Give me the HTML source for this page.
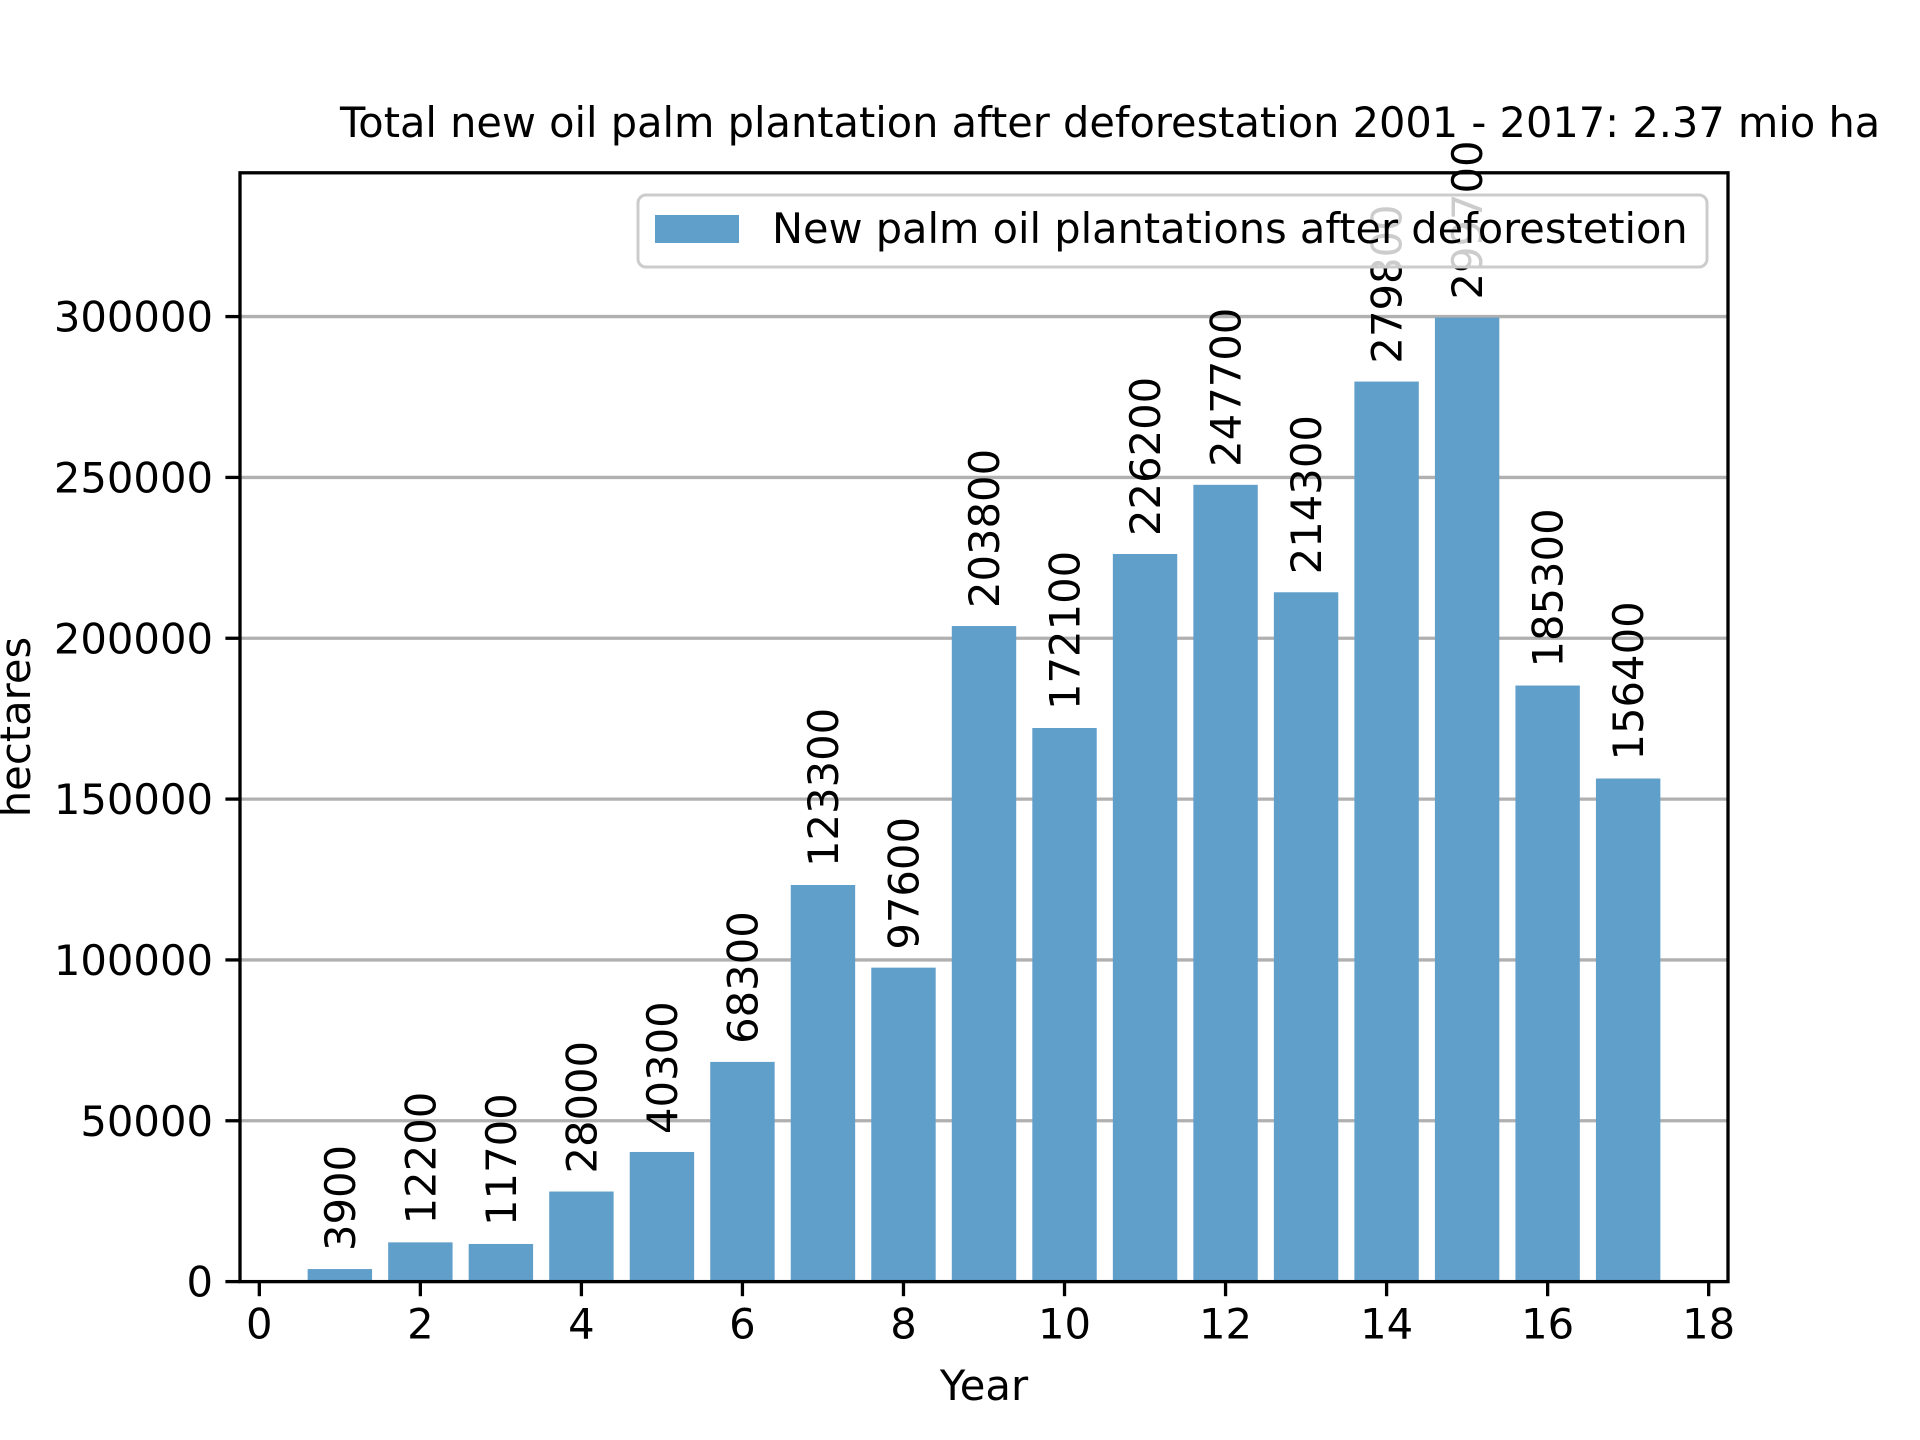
<!DOCTYPE html>
<html><head><meta charset="utf-8"><style>
html,body{margin:0;padding:0;background:#fff}
svg{display:block;font-family:"DejaVu Sans","Liberation Sans",sans-serif}
</style></head><body>
<svg id="chart" width="1920" height="1440" viewBox="0 0 1920 1440" xmlns="http://www.w3.org/2000/svg">
<rect width="1920" height="1440" fill="#fff"/>
<g id="grid"></g><g id="bars"></g><g id="vals"></g><g id="axes"></g>
<text x="340" y="137" font-size="41.5" fill="#000">Total new oil palm plantation after deforestation 2001 - 2017: 2.37 mio ha</text>
<text x="984" y="1400" font-size="41.7" text-anchor="middle">Year</text>
<text transform="translate(30,727) rotate(-90)" font-size="41.7" text-anchor="middle">hectares</text>
<g>
<rect x="638" y="195" width="1069" height="72" rx="8" fill="rgba(255,255,255,0.8)" stroke="#cccccc" stroke-width="3"/>
<rect x="655" y="215" width="84" height="28" fill="#619fcb"/>
<text x="772" y="243" font-size="41.5">New palm oil plantations after deforestetion</text>
</g>
</svg>
<script>
const years = [1,2,3,4,5,6,7,8,9,10,11,12,13,14,15,16,17];
const values = [3900,12200,11700,28000,40300,68300,123300,97600,203800,172100,226200,247700,214300,279800,299700,185300,156400];
const xTicks = [0,2,4,6,8,10,12,14,16,18];
const yTicks = [0,50000,100000,150000,200000,250000,300000];

const L=240,R=1728,T=172.8,B=1281.6;
const xMin=-0.24,xMax=18.24,yMax=344700;
const sx=v=>L+(v-xMin)/(xMax-xMin)*(R-L);
const sy=v=>B-v/yMax*(B-T);
const NS='http://www.w3.org/2000/svg';
function mk(tag,attrs,parent,txt){const e=document.createElementNS(NS,tag);for(const k in attrs)e.setAttribute(k,attrs[k]);if(txt!==undefined)e.textContent=txt;parent.appendChild(e);return e;}
const grid=document.getElementById('grid'),bars=document.getElementById('bars'),vals=document.getElementById('vals'),axes=document.getElementById('axes');
yTicks.forEach(t=>{
  const g=mk('line',{x1:L,x2:R,y1:sy(t),y2:sy(t),stroke:'#b0b0b0','stroke-width':3.3},grid);
  
  
});
years.forEach((y,i)=>{
  const v=values[i];
  const r=mk('rect',{x:sx(y-0.4),y:sy(v),width:sx(y+0.4)-sx(y-0.4),height:B-sy(v),fill:'#619fcb'},bars);
  
  
  const tx=sx(y)+15, ty=sy(v)-18;
  const t=mk('text',{transform:`translate(${tx},${ty}) rotate(-90)`,'font-size':41.7},vals,String(v));
  
  
});
mk('rect',{x:L,y:T,width:R-L,height:B-T,fill:'none',stroke:'#000','stroke-width':3.3},axes);
xTicks.forEach(t=>{
  const x=sx(t);
  mk('line',{x1:x,x2:x,y1:B,y2:B+14.6,stroke:'#000','stroke-width':3.3},axes);
  const l=mk('text',{x:x,y:B+57,'font-size':41.7,'text-anchor':'middle'},axes,String(t));
  
  
});
yTicks.forEach(t=>{
  const y=sy(t);
  mk('line',{x1:L-14.6,x2:L,y1:y,y2:y,stroke:'#000','stroke-width':3.3},axes);
  const l=mk('text',{x:L-27,y:y+15,'font-size':41.7,'text-anchor':'end'},axes,String(t));
  
  
});
</script>
</body></html>
